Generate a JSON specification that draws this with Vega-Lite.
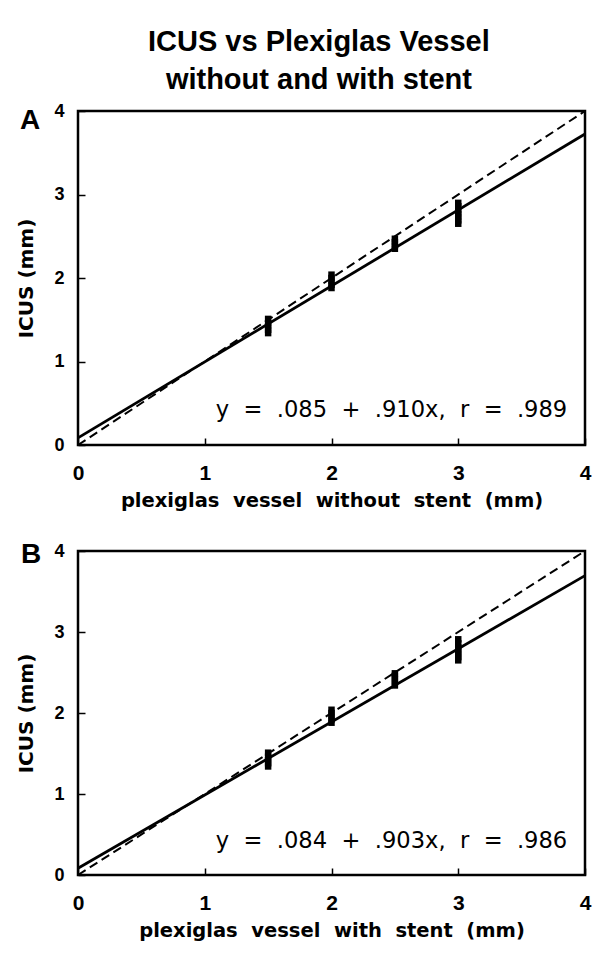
{
  "$schema": "https://vega.github.io/schema/vega-lite/v6.json",
  "background": "white",
  "padding": {"left": 15, "top": 27, "right": 12, "bottom": 5},
  "bounds": "flush",
  "spacing": 106,
  "title": {
    "text": ["ICUS vs Plexiglas Vessel", "without and with stent"],
    "font": "Liberation Sans",
    "fontSize": 29,
    "fontWeight": "bold",
    "lineHeight": 38,
    "anchor": "middle",
    "dx": 15,
    "offset": 6,
    "color": "black"
  },
  "datasets": {
    "lines": [
      {"panel": "A", "kind": "fit", "x": 0, "y": 0.085},
      {"panel": "A", "kind": "fit", "x": 4, "y": 3.725},
      {"panel": "A", "kind": "identity", "x": 0, "y": 0},
      {"panel": "A", "kind": "identity", "x": 4, "y": 4},
      {"panel": "B", "kind": "fit", "x": 0, "y": 0.084},
      {"panel": "B", "kind": "fit", "x": 4, "y": 3.696},
      {"panel": "B", "kind": "identity", "x": 0, "y": 0},
      {"panel": "B", "kind": "identity", "x": 4, "y": 4}
    ],
    "points": [
      {"panel": "A", "x": 1.5, "y": 1.34}, {"panel": "A", "x": 1.5, "y": 1.38}, {"panel": "A", "x": 1.5, "y": 1.42}, {"panel": "A", "x": 1.5, "y": 1.46}, {"panel": "A", "x": 1.5, "y": 1.51},
      {"panel": "A", "x": 2, "y": 1.88}, {"panel": "A", "x": 2, "y": 1.92}, {"panel": "A", "x": 2, "y": 1.96}, {"panel": "A", "x": 2, "y": 2.0}, {"panel": "A", "x": 2, "y": 2.04},
      {"panel": "A", "x": 2.5, "y": 2.35}, {"panel": "A", "x": 2.5, "y": 2.39}, {"panel": "A", "x": 2.5, "y": 2.43}, {"panel": "A", "x": 2.5, "y": 2.47},
      {"panel": "A", "x": 3, "y": 2.65}, {"panel": "A", "x": 3, "y": 2.69}, {"panel": "A", "x": 3, "y": 2.73}, {"panel": "A", "x": 3, "y": 2.77}, {"panel": "A", "x": 3, "y": 2.81}, {"panel": "A", "x": 3, "y": 2.86}, {"panel": "A", "x": 3, "y": 2.9},
      {"panel": "B", "x": 1.5, "y": 1.34}, {"panel": "B", "x": 1.5, "y": 1.38}, {"panel": "B", "x": 1.5, "y": 1.42}, {"panel": "B", "x": 1.5, "y": 1.46}, {"panel": "B", "x": 1.5, "y": 1.51},
      {"panel": "B", "x": 2, "y": 1.88}, {"panel": "B", "x": 2, "y": 1.92}, {"panel": "B", "x": 2, "y": 1.96}, {"panel": "B", "x": 2, "y": 2.0}, {"panel": "B", "x": 2, "y": 2.04},
      {"panel": "B", "x": 2.5, "y": 2.34}, {"panel": "B", "x": 2.5, "y": 2.38}, {"panel": "B", "x": 2.5, "y": 2.42}, {"panel": "B", "x": 2.5, "y": 2.46}, {"panel": "B", "x": 2.5, "y": 2.49},
      {"panel": "B", "x": 3, "y": 2.65}, {"panel": "B", "x": 3, "y": 2.69}, {"panel": "B", "x": 3, "y": 2.73}, {"panel": "B", "x": 3, "y": 2.77}, {"panel": "B", "x": 3, "y": 2.81}, {"panel": "B", "x": 3, "y": 2.86}, {"panel": "B", "x": 3, "y": 2.91}
    ],
    "eq": [
      {"panel": "A", "x": 3.86, "y": 0.335, "label": "y\u00a0 =\u00a0 .085\u00a0 +\u00a0 .910x,\u00a0 r\u00a0 =\u00a0 .989"},
      {"panel": "B", "x": 3.86, "y": 0.333, "label": "y\u00a0 =\u00a0 .084\u00a0 +\u00a0 .903x,\u00a0 r\u00a0 =\u00a0 .986"}
    ],
    "panels": [
      {"panel": "A", "x": -0.458, "y": 3.79, "label": "A"},
      {"panel": "B", "x": -0.45, "y": 3.85, "label": "B"}
    ]
  },
  "vconcat": [
    {
      "width": 507,
      "height": 334,
      "encoding": {
        "x": {"field": "x", "type": "quantitative", "scale": {"domain": [0, 4], "nice": false}, "axis": {"values": [0, 1, 2, 3, 4], "title": "plexiglas\u00a0 vessel\u00a0 without\u00a0 stent\u00a0 (mm)"}},
        "y": {"field": "y", "type": "quantitative", "scale": {"domain": [0, 4], "nice": false}, "axis": {"values": [0, 1, 2, 3, 4], "title": "ICUS (mm)"}}
      },
      "layer": [
        {"data": {"name": "lines"}, "transform": [{"filter": "datum.panel === 'A' && datum.kind === 'identity'"}], "mark": {"type": "line", "color": "black", "strokeWidth": 2, "strokeDash": [9, 5]}},
        {"data": {"name": "lines"}, "transform": [{"filter": "datum.panel === 'A' && datum.kind === 'fit'"}], "mark": {"type": "line", "color": "black", "strokeWidth": 2.8}},
        {"data": {"name": "points"}, "transform": [{"filter": "datum.panel === 'A'"}], "mark": {"type": "point", "shape": "square", "filled": true, "color": "black", "size": 42, "opacity": 1}},
        {"data": {"name": "eq"}, "transform": [{"filter": "datum.panel === 'A'"}], "mark": {"type": "text", "align": "right", "baseline": "alphabetic", "font": "DejaVu Sans", "fontSize": 22.6, "color": "black"}, "encoding": {"text": {"field": "label"}}},
        {"data": {"name": "panels"}, "transform": [{"filter": "datum.panel === 'A'"}], "mark": {"type": "text", "align": "left", "baseline": "alphabetic", "font": "Liberation Sans", "fontSize": 28, "fontWeight": "bold", "color": "black"}, "encoding": {"text": {"field": "label"}}}
      ]
    },
    {
      "width": 507,
      "height": 324,
      "encoding": {
        "x": {"field": "x", "type": "quantitative", "scale": {"domain": [0, 4], "nice": false}, "axis": {"values": [0, 1, 2, 3, 4], "title": "plexiglas\u00a0 vessel\u00a0 with\u00a0 stent\u00a0 (mm)"}},
        "y": {"field": "y", "type": "quantitative", "scale": {"domain": [0, 4], "nice": false}, "axis": {"values": [0, 1, 2, 3, 4], "title": "ICUS (mm)"}}
      },
      "layer": [
        {"data": {"name": "lines"}, "transform": [{"filter": "datum.panel === 'B' && datum.kind === 'identity'"}], "mark": {"type": "line", "color": "black", "strokeWidth": 2, "strokeDash": [9, 5]}},
        {"data": {"name": "lines"}, "transform": [{"filter": "datum.panel === 'B' && datum.kind === 'fit'"}], "mark": {"type": "line", "color": "black", "strokeWidth": 2.8}},
        {"data": {"name": "points"}, "transform": [{"filter": "datum.panel === 'B'"}], "mark": {"type": "point", "shape": "square", "filled": true, "color": "black", "size": 42, "opacity": 1}},
        {"data": {"name": "eq"}, "transform": [{"filter": "datum.panel === 'B'"}], "mark": {"type": "text", "align": "right", "baseline": "alphabetic", "font": "DejaVu Sans", "fontSize": 22.6, "color": "black"}, "encoding": {"text": {"field": "label"}}},
        {"data": {"name": "panels"}, "transform": [{"filter": "datum.panel === 'B'"}], "mark": {"type": "text", "align": "left", "baseline": "alphabetic", "font": "Liberation Sans", "fontSize": 28, "fontWeight": "bold", "color": "black"}, "encoding": {"text": {"field": "label"}}}
      ]
    }
  ],
  "config": {
    "view": {"stroke": "black", "strokeWidth": 2.5},
    "axis": {
      "grid": false,
      "domain": false,
      "ticks": true,
      "tickColor": "black",
      "tickWidth": 1.5,
      "tickSize": -7,
      "labelColor": "black",
      "labelFont": "Liberation Sans",
      "labelFontWeight": "bold",
      "labelFlush": false,
      "labelOverlap": false,
      "titleColor": "black",
      "titleFont": "DejaVu Sans",
      "titleFontWeight": "bold",
      "titleFontSize": 20
    },
    "axisX": {"labelFontSize": 21, "labelPadding": 24, "titlePadding": 8, "titleFontSize": 19.5},
    "axisY": {"labelFontSize": 18, "labelPadding": 21, "titlePadding": 17}
  }
}
